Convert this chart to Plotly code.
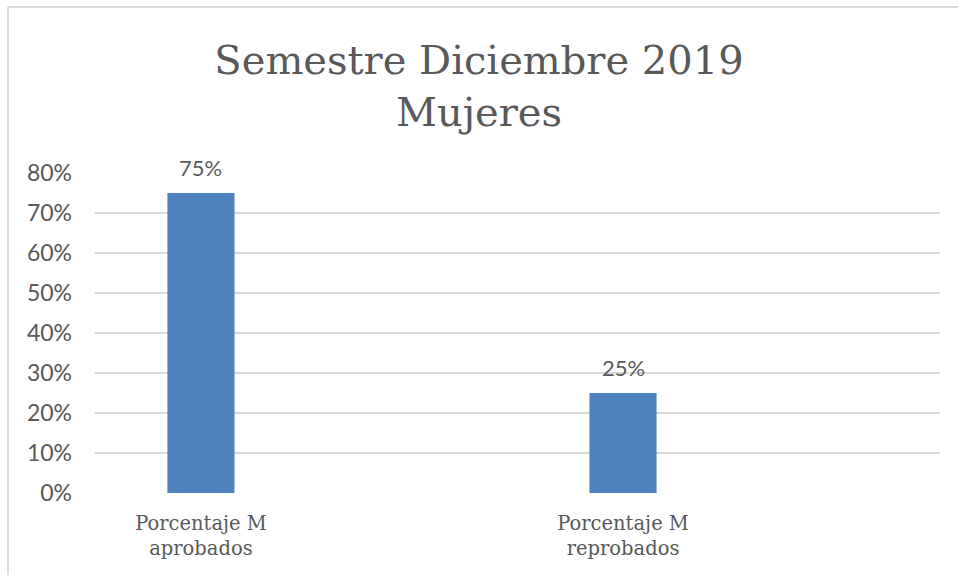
import plotly.graph_objects as go

categories = ["Porcentaje M<br>aprobados", "Porcentaje M<br>reprobados"]
values = [0.75, 0.25]
tick_vals = [0, 0.1, 0.2, 0.3, 0.4, 0.5, 0.6, 0.7, 0.8]
tick_text = ["0%", "10%", "20%", "30%", "40%", "50%", "60%", "70%", "80%"]
title_lines = ["Semestre Diciembre 2019", "Mujeres"]

W, H = 958, 575
L, R, T, B = 95, 18, 173, 82
TXT = "#595959"

fig = go.Figure()
fig.add_trace(go.Bar(
    x=list(range(len(categories))), y=values,
    width=0.159, marker=dict(color="#4F81BD", line=dict(width=0)),
    hoverinfo="skip",
))

for i, v in enumerate(values):
    fig.add_annotation(x=i, y=v, text=f"{round(v*100)}%", showarrow=False,
                       yanchor="bottom", yshift=10,
                       font=dict(family="Lato", size=22, color=TXT))

pw = W - L - R
ph = H - T - B
# chart border (top and left)
fig.add_shape(type="line", xref="paper", yref="paper",
              x0=(8 - L) / pw, x1=(W - L) / pw,
              y0=(H - B - 7) / ph, y1=(H - B - 7) / ph,
              line=dict(color="#D9D9D9", width=2))
fig.add_shape(type="line", xref="paper", yref="paper",
              x0=(8 - L) / pw, x1=(8 - L) / pw,
              y0=(H - B - 7) / ph, y1=-B / ph,
              line=dict(color="#D9D9D9", width=2))

fig.update_layout(
    width=W, height=H,
    margin=dict(l=L, r=R, t=T, b=B),
    paper_bgcolor="white", plot_bgcolor="white",
    showlegend=False,
    title=dict(text="<br>".join(title_lines), x=0.5, xanchor="center",
               y=1 - 74 / H, yanchor="top", yref="container",
               font=dict(family="DejaVu Serif", size=40, color=TXT)),
    xaxis=dict(
        range=[-0.251, 1.751],
        tickmode="array", tickvals=list(range(len(categories))), ticktext=categories,
        showgrid=False, zeroline=False, showline=False, ticks="",
        ticklabelstandoff=16,
        tickfont=dict(family="DejaVu Serif", size=19.5, color=TXT),
    ),
    yaxis=dict(
        range=[0, 0.8],
        tickmode="array", tickvals=tick_vals, ticktext=tick_text,
        showgrid=True, gridcolor="#D9D9D9", gridwidth=2,
        zeroline=False, showline=False, ticks="",
        ticklabelstandoff=22,
        tickfont=dict(family="Lato", size=23, color=TXT),
    ),
)

fig.write_html("out.html", config={"displayModeBar": False},
               post_script="document.body.style.margin='0';")
